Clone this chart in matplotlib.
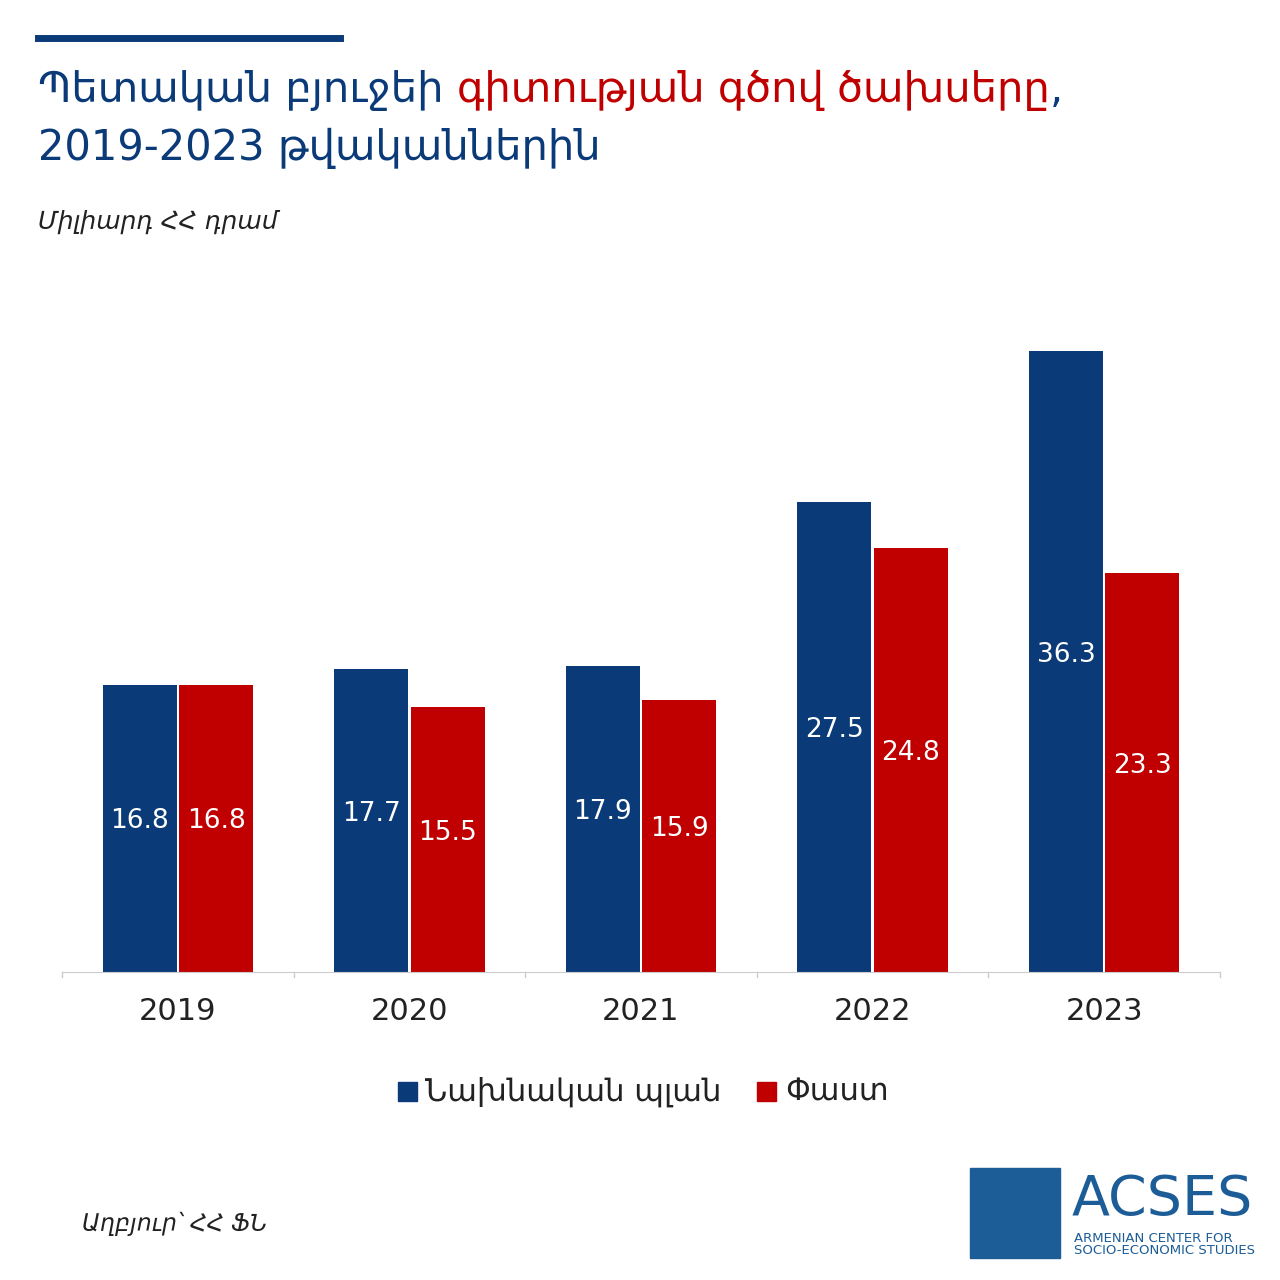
import numpy as np
import matplotlib.pyplot as plt
from matplotlib.patches import Rectangle

years = ['2019', '2020', '2021', '2022', '2023']
plan = [16.8, 17.7, 17.9, 27.5, 36.3]
fact = [16.8, 15.5, 15.9, 24.8, 23.3]

navy = '#0b3a78'
red = '#c00000'
plt.rcParams['font.family'] = 'DejaVu Sans'

fig = plt.figure(figsize=(12.8, 12.8), dpi=100)
ax = fig.add_axes([62/1280, 1 - 972/1280, (1220-62)/1280, 650/1280])
x = np.arange(len(years))
w = 0.32
b1 = ax.bar(x - w/2 - 0.005, plan, w, color=navy)
b2 = ax.bar(x + w/2 + 0.005, fact, w, color=red)
for bars in (b1, b2):
    for b in bars:
        ax.text(b.get_x() + b.get_width()/2, b.get_height()/2 + 0.4, f'{b.get_height():.1f}',
                ha='center', va='center', color='white', fontsize=19)
ax.set_xlim(-0.5, 4.5)
ax.set_ylim(0, 38)
ax.set_xticks(x)
ax.set_xticklabels(years, fontsize=22, color='#222222')
ax.tick_params(axis='x', length=0, pad=18)
for xb in np.arange(-0.5, 5, 1):
    ax.plot([xb, xb], [0, -0.3], color='#cccccc', lw=1, clip_on=False)
ax.set_yticks([])
for s in ['top', 'right', 'left']:
    ax.spines[s].set_visible(False)
ax.spines['bottom'].set_color('#cccccc')

# legend
fig.patches.append(Rectangle((398/1280, 1 - 1101/1280), 19/1280, 19/1280, transform=fig.transFigure, color=navy))
fig.text(425/1280, 1 - 1092/1280, 'Նախնական պլան', fontsize=22, va='center', color='#222222')
fig.patches.append(Rectangle((757/1280, 1 - 1101/1280), 19/1280, 19/1280, transform=fig.transFigure, color=red))
fig.text(785/1280, 1 - 1092/1280, 'Փաստ', fontsize=22, va='center', color='#222222')

# title
fig.add_artist(plt.Line2D([38/1280, 340/1280], [1 - 38/1280] * 2, color=navy, lw=5))
fig.canvas.draw()
r = fig.canvas.get_renderer()
t1 = fig.text(38/1280, 1 - 90/1280, 'Պետական բյուջեի ', fontsize=30, color=navy, va='center')
bb = t1.get_window_extent(r)
t2 = fig.text(bb.x1/1280, 1 - 90/1280, 'գիտության գծով ծախսերը', fontsize=30, color=red, va='center')
bb = t2.get_window_extent(r)
fig.text(bb.x1/1280, 1 - 90/1280, ',', fontsize=30, color=navy, va='center')
fig.text(38/1280, 1 - 148/1280, '2019-2023 թվականներին', fontsize=30, color=navy, va='center')
fig.text(38/1280, 1 - 222/1280, 'Միլիարդ ՀՀ դրամ', fontsize=18, style='italic', color='#222222', va='center')
fig.text(82/1280, 1 - 1224/1280, 'Աղբյուր՝ ՀՀ ՖՆ', fontsize=17, style='italic', color='#222222', va='center')

# logo
fig.patches.append(Rectangle((970/1280, 1 - 1258/1280), 90/1280, 90/1280, transform=fig.transFigure, color='#1d5d97'))
fig.text(1072/1280, 1 - 1200/1280, 'ACSES', fontsize=40, color='#1d5d97', va='center')
fig.text(1074/1280, 1 - 1238/1280, 'ARMENIAN CENTER FOR', fontsize=9.5, color='#1d5d97', va='center')
fig.text(1074/1280, 1 - 1251/1280, 'SOCIO-ECONOMIC STUDIES', fontsize=9.5, color='#1d5d97', va='center')

fig.savefig('out.png', dpi=100, facecolor='white')
